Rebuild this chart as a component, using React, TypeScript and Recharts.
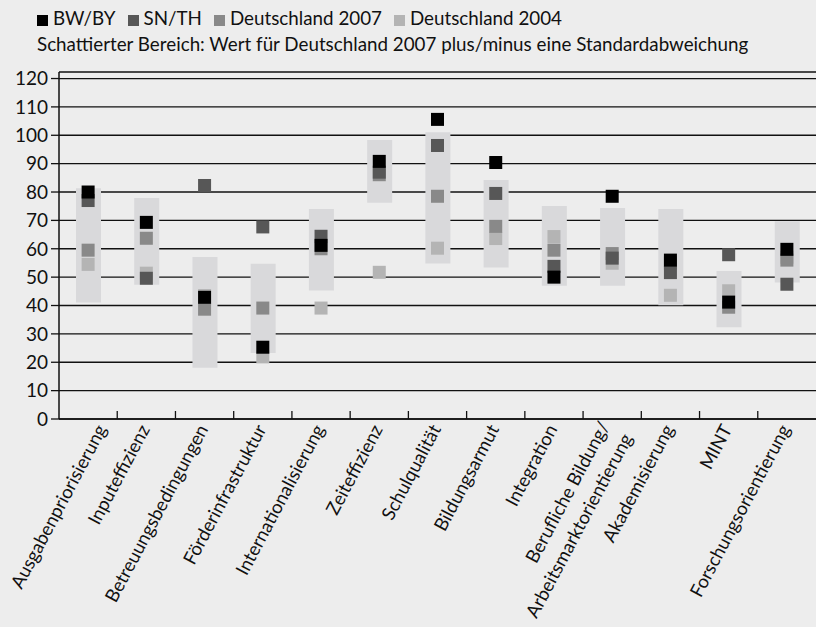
import { ComposedChart, Bar, Scatter, XAxis, YAxis, CartesianGrid } from 'recharts';

const categories = [
  'Ausgabenpriorisierung',
  'Inputeffizienz',
  'Betreuungsbedingungen',
  'Förderinfrastruktur',
  'Internationalisierung',
  'Zeiteffizienz',
  'Schulqualität',
  'Bildungsarmut',
  'Integration',
  'Berufliche Bildung/\nArbeitsmarktorientierung',
  'Akademisierung',
  'MINT',
  'Forschungsorientierung',
];
const bwBy = [80, 69.3, 42.9, 25.3, 61.2, 90.8, 105.6, 90.4, 50, 78.5, 56, 41.2, 59.8];
const snTh = [77, 49.6, 82.3, 67.7, 64.4, 87, 96.4, 79.5, 53.8, 56.7, 51.6, 57.9, 47.5];
const de2007 = [59.5, 63.7, 38.7, 39.1, 60, 86.1, 78.5, 67.9, 59.5, 58.3, 55, 39.4, 56];
const de2004 = [54.5, 51.4, 43.5, 21.9, 39.1, 51.7, 60.2, 63.6, 64.3, 54.9, 43.6, 45.2, 57];
const sdLow = [41.1, 47.3, 18.1, 23.3, 45.3, 76.2, 54.8, 53.4, 47, 47, 40.1, 32.3, 48.1];
const sdHigh = [81.3, 77.9, 57.1, 54.7, 74, 98.3, 101.1, 84.2, 75.1, 74.4, 74, 52.2, 69.7];
const yTicks = [0, 10, 20, 30, 40, 50, 60, 70, 80, 90, 100, 110, 120];

const data = categories.map((name, i) => ({
  name,
  bw: bwBy[i],
  sn: snTh[i],
  d07: de2007[i],
  d04: de2004[i],
  sd: [sdLow[i], sdHigh[i]],
}));

const FONT = 'Lato, sans-serif';
const BG = '#ededed';
const C_BW = '#000000';
const C_SN = '#575757';
const C_D07 = '#898989';
const C_D04 = '#b4b4b4';
const C_BAND = '#d9d9db';

const W = 816;
const H = 627;
const Y_W = 59;
const BAND = (W - Y_W) / categories.length;

const square = (fill: string) => (p: any) => (
  <rect x={p.cx - 6.5} y={p.cy - 6.5} width={13} height={13} fill={fill} />
);

const CatTick = (p: any) => {
  const { x, y, payload, index } = p;
  const lines = String(payload.value).split('\n');
  // first label is nudged right so it stays inside the picture
  const ax = x + 4 + (index === 0 ? 15 : 0);
  const ay = y + 10;
  const last = index === categories.length - 1;
  return (
    <g>
      {!last && (
        <line x1={x + BAND / 2} x2={x + BAND / 2} y1={y} y2={y - 8} stroke="#111" strokeWidth={1.3} />
      )}
      <text
        x={ax}
        y={ay}
        textAnchor="end"
        transform={`rotate(-62 ${ax} ${ay})`}
        fontFamily={FONT}
        fontSize={18.5}
        fill="#111"
      >
        {lines.map((l, i) => (
          <tspan key={i} x={ax} dy={i === 0 ? (lines.length > 1 ? '-0.37em' : 0) : '1.4em'}>
            {l}
          </tspan>
        ))}
      </text>
    </g>
  );
};

const LegendSq = ({ c }: { c: string }) => (
  <span style={{ display: 'inline-block', width: 11, height: 11, background: c, marginRight: 5, verticalAlign: '-1px' }} />
);

const gap = <span style={{ marginRight: 12 }} />;

const App = () => {
  return (
    <div style={{ position: 'absolute', left: 0, top: 0, width: W, height: H, background: BG, overflow: 'hidden' }}>
      <div style={{ position: 'absolute', left: 37, top: 5, fontFamily: FONT, fontSize: 18.8, color: '#111', lineHeight: '26px', whiteSpace: 'nowrap' }}>
        <div>
          <LegendSq c={C_BW} />BW/BY{gap}
          <LegendSq c={C_SN} />SN/TH{gap}
          <LegendSq c={C_D07} />Deutschland 2007{gap}
          <LegendSq c={C_D04} />Deutschland 2004
        </div>
        <div>Schattierter Bereich: Wert für Deutschland 2007 plus/minus eine Standardabweichung</div>
      </div>
      <ComposedChart width={W} height={H} data={data} margin={{ top: 72, right: 0, bottom: 0, left: 0 }}>
        <CartesianGrid horizontal vertical={false} stroke="#111" strokeWidth={1.3} />
        <XAxis
          dataKey="name"
          type="category"
          height={208}
          interval={0}
          tickLine={false}
          tickSize={0}
          tickMargin={0}
          axisLine={{ stroke: '#111', strokeWidth: 1.5 }}
          tick={<CatTick />}
        />
        <YAxis
          type="number"
          domain={[0, 122.3]}
          ticks={yTicks}
          interval={0}
          width={Y_W}
          tickSize={8}
          tickMargin={3}
          axisLine={{ stroke: '#111', strokeWidth: 1.5 }}
          tickLine={{ stroke: '#111', strokeWidth: 1.3 }}
          tick={{ fontFamily: FONT, fontSize: 19, fill: '#111' }}
        />
        <Bar dataKey="sd" barSize={25} fill={C_BAND} isAnimationActive={false} />
        <Scatter dataKey="d04" shape={square(C_D04)} isAnimationActive={false} />
        <Scatter dataKey="d07" shape={square(C_D07)} isAnimationActive={false} />
        <Scatter dataKey="sn" shape={square(C_SN)} isAnimationActive={false} />
        <Scatter dataKey="bw" shape={square(C_BW)} isAnimationActive={false} />
      </ComposedChart>
    </div>
  );
};

export default App;
